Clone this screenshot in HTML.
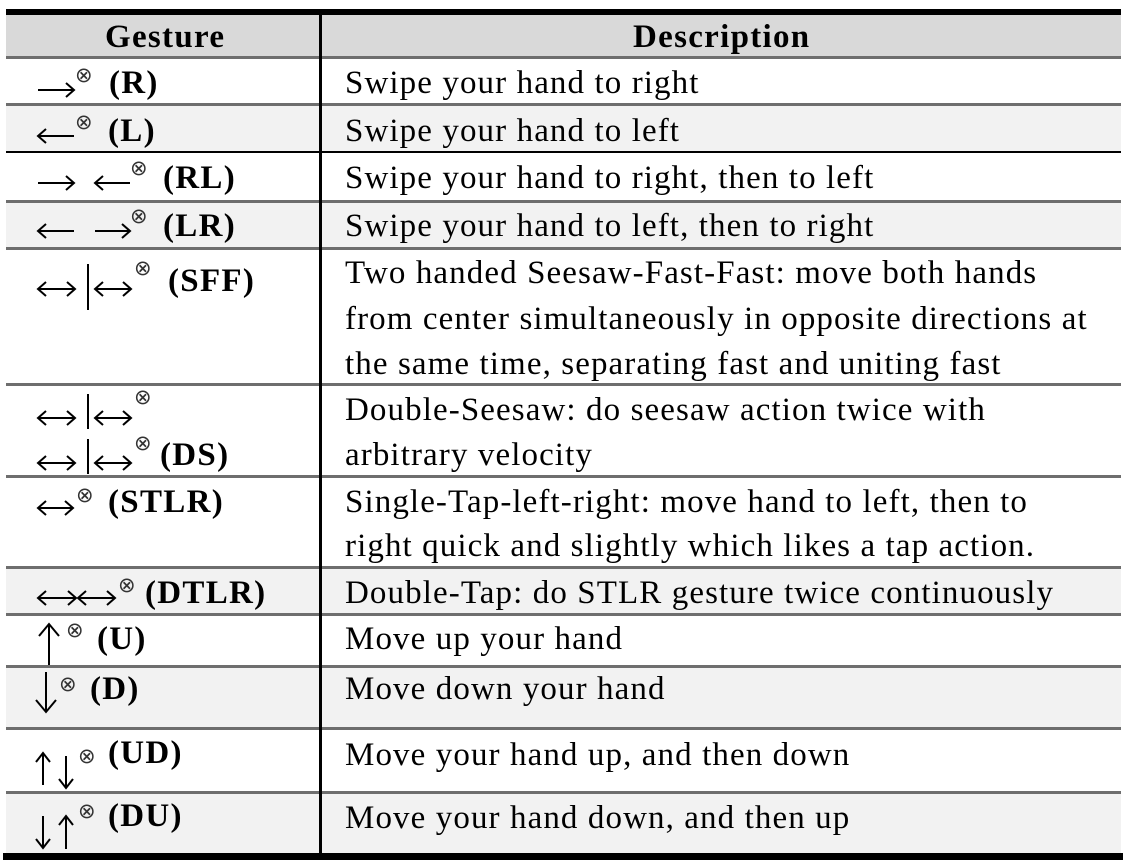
<!DOCTYPE html>
<html><head><meta charset="utf-8"><style>
body{margin:0;background:#fff;width:1125px;height:865px;position:relative;overflow:hidden;font-family:"Liberation Serif","DejaVu Serif",serif;color:#000}
.r{position:absolute;left:6px;width:1115px}
.h{position:absolute;left:6px;width:1115px;height:3px;background:#6e6e6e}
.t{position:absolute;font-size:33px;line-height:30px;white-space:nowrap;letter-spacing:1.1px}
.b{font-weight:bold;letter-spacing:1.3px}
.o{position:absolute;font-size:21px;line-height:16px;font-family:"DejaVu Sans",sans-serif;color:#333}
.vb{position:absolute;width:2px;background:#000}
</style></head><body>
<div class="r" style="top:15px;height:42px;background:#d9d9d9"></div>
<div class="r" style="top:104px;height:48px;background:#f2f2f2"></div>
<div class="r" style="top:201px;height:47px;background:#f2f2f2"></div>
<div class="r" style="top:567px;height:47px;background:#f2f2f2"></div>
<div class="r" style="top:666px;height:62px;background:#f2f2f2"></div>
<div class="r" style="top:792px;height:61px;background:#f2f2f2"></div>
<div class="r" style="top:9px;height:6px;background:#000"></div>
<div class="h" style="top:56px"></div>
<div class="h" style="top:103px"></div>
<div class="h" style="top:151px;background:#000;height:2px"></div>
<div class="h" style="top:200px"></div>
<div class="h" style="top:247px"></div>
<div class="h" style="top:383px"></div>
<div class="h" style="top:475px"></div>
<div class="h" style="top:566px"></div>
<div class="h" style="top:613px"></div>
<div class="h" style="top:665px"></div>
<div class="h" style="top:727px"></div>
<div class="h" style="top:791px"></div>
<div class="r" style="top:853px;height:7px;background:#000;left:3px;width:1120px"></div>
<div style="position:absolute;left:319px;top:15px;width:3px;height:838px;background:#000"></div>

<div class="t b" style="left:105px;top:22px">Gesture</div>
<div class="t b" style="left:633px;top:22px">Description</div>

<div class="t" style="left:345px;top:68px">Swipe your hand to right</div>
<div class="t" style="left:345px;top:116px">Swipe your hand to left</div>
<div class="t" style="left:345px;top:163px">Swipe your hand to right, then to left</div>
<div class="t" style="left:345px;top:211px">Swipe your hand to left, then to right</div>
<div class="t" style="left:345px;top:258px">Two handed Seesaw-Fast-Fast: move both hands</div>
<div class="t" style="left:345px;top:304px">from center simultaneously in opposite directions at</div>
<div class="t" style="left:345px;top:349px">the same time, separating fast and uniting fast</div>
<div class="t" style="left:345px;top:395px">Double-Seesaw: do seesaw action twice with</div>
<div class="t" style="left:345px;top:440px">arbitrary velocity</div>
<div class="t" style="left:345px;top:487px">Single-Tap-left-right: move hand to left, then to</div>
<div class="t" style="left:345px;top:531px">right quick and slightly which likes a tap action.</div>
<div class="t" style="left:345px;top:578px">Double-Tap: do STLR gesture twice continuously</div>
<div class="t" style="left:345px;top:624px">Move up your hand</div>
<div class="t" style="left:345px;top:674px">Move down your hand</div>
<div class="t" style="left:345px;top:740px">Move your hand up, and then down</div>
<div class="t" style="left:345px;top:803px">Move your hand down, and then up</div>

<svg style="position:absolute;left:0;top:0" width="200" height="865" fill="none" stroke="#000" stroke-width="2">
<path d="M38 90H74M66 83L74 90L66 97"/>
<path d="M38 136H74M46 129L38 136L46 143"/>
<path d="M38 183H74M66 176L74 183L66 190"/>
<path d="M95 183H130M103 176L95 183L103 190"/>
<path d="M38 231H74M46 224L38 231L46 238"/>
<path d="M95 231H130M122 224L130 231L122 238"/>
<path d="M38 289H75M46 282L38 289L46 296M67 282L75 289L67 296"/>
<path d="M95 289H131M103 282L95 289L103 296M123 282L131 289L123 296"/>
<path d="M38 418H75M46 411L38 418L46 425M67 411L75 418L67 425"/>
<path d="M95 418H131M103 411L95 418L103 425M123 411L131 418L123 425"/>
<path d="M38 463H75M46 456L38 463L46 470M67 456L75 463L67 470"/>
<path d="M95 463H131M103 456L95 463L103 470M123 456L131 463L123 470"/>
<path d="M38 508H73M46 501L38 508L46 515M65 501L73 508L65 515"/>
<path d="M38 598H76M46 591L38 598L46 605M68 591L76 598L68 605"/>
<path d="M78 598H115M86 591L78 598L86 605M107 591L115 598L107 605"/>
<path d="M49 665V624M39 636L49 624L59 636"/>
<path d="M46 672V712M36 700L46 712L56 700"/>
<path d="M43 785V753M36 762L43 753L50 762"/>
<path d="M66 756V788M59 779L66 788L73 779"/>
<path d="M43 816V848M36 839L43 848L50 839"/>
<path d="M66 849V816M59 825L66 816L73 825"/>
</svg>
<div class="vb" style="left:87px;top:264px;height:46px"></div>
<div class="vb" style="left:87px;top:394px;height:35px"></div>
<div class="vb" style="left:87px;top:439px;height:35px"></div>

<div class="o" style="left:75px;top:67px">⊗</div><div class="t b" style="left:109px;top:68px">(R)</div>
<div class="o" style="left:75px;top:114px">⊗</div><div class="t b" style="left:108px;top:116px">(L)</div>
<div class="o" style="left:130px;top:160px">⊗</div><div class="t b" style="left:163px;top:163px">(RL)</div>
<div class="o" style="left:130px;top:208px">⊗</div><div class="t b" style="left:163px;top:211px">(LR)</div>
<div class="o" style="left:134px;top:260px">⊗</div><div class="t b" style="left:168px;top:266px">(SFF)</div>
<div class="o" style="left:134px;top:389px">⊗</div>
<div class="o" style="left:134px;top:435px">⊗</div><div class="t b" style="left:160px;top:440px">(DS)</div>
<div class="o" style="left:76px;top:487px">⊗</div><div class="t b" style="left:108px;top:487px">(STLR)</div>
<div class="o" style="left:118px;top:577px">⊗</div><div class="t b" style="left:145px;top:578px">(DTLR)</div>
<div class="o" style="left:66px;top:622px">⊗</div><div class="t b" style="left:97px;top:624px">(U)</div>
<div class="o" style="left:59px;top:676px">⊗</div><div class="t b" style="left:90px;top:674px">(D)</div>
<div class="o" style="left:78px;top:748px">⊗</div><div class="t b" style="left:108px;top:738px">(UD)</div>
<div class="o" style="left:78px;top:803px">⊗</div><div class="t b" style="left:108px;top:801px">(DU)</div>
</body></html>
